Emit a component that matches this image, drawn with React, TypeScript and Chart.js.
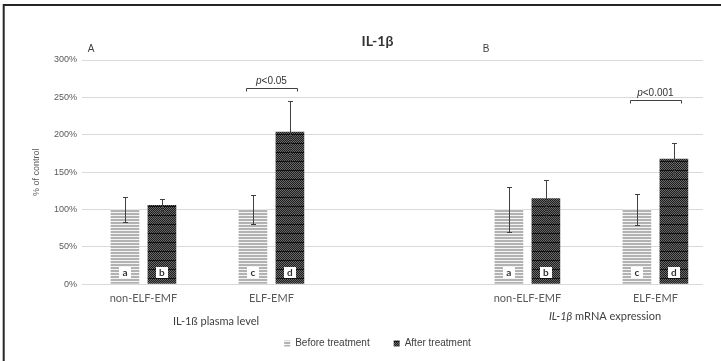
import React, { useEffect, useRef } from 'react';
import { Chart, registerables } from 'chart.js';

Chart.register(...registerables);

// ---- data ----
const categoryPositions = [0, 1, 3, 4];
const xTickLabels = ['non-ELF-EMF', 'ELF-EMF', 'non-ELF-EMF', 'ELF-EMF'];
const seriesNames = ['Before treatment', 'After treatment'];
const beforeValues = [100, 100, 100, 100];
const beforeErrors = [17, 19, 30, 21];
const afterValues = [106, 204, 115, 168];
const afterErrors = [8, 41, 24, 21];
const beforeLetters = ['a', 'c', 'a', 'c'];
const afterLetters = ['b', 'd', 'b', 'd'];
const yMin = 0;
const yMax = 300;
const yStep = 50;
const sigPositions = [1, 4];
const sigLabels = ['<0.05', '<0.001'];
const sigBracketValues = [263, 247];
const panelLetters = ['A', 'B'];
const chartTitle = 'IL-1β';
const yAxisTitle = '% of control';

function makeBeforePattern(): CanvasPattern | string {
  const c = document.createElement('canvas');
  c.width = 4;
  c.height = 3;
  const g = c.getContext('2d');
  if (!g) return '#c8c8c8';
  g.fillStyle = '#b2b2b2';
  g.fillRect(0, 0, 4, 2);
  g.fillStyle = '#f4f4f4';
  g.fillRect(0, 2, 4, 1);
  return g.createPattern(c, 'repeat') || '#c8c8c8';
}

function makeAfterPattern(): CanvasPattern | string {
  const c = document.createElement('canvas');
  c.width = 4;
  c.height = 9;
  const g = c.getContext('2d');
  if (!g) return '#3a3a3a';
  for (let y = 0; y < 8; y++) {
    for (let x = 0; x < 4; x++) {
      g.fillStyle = (x + y) % 2 === 0 ? '#1c1c1c' : '#6a6a6a';
      g.fillRect(x, y, 1, 1);
    }
  }
  g.fillStyle = '#111111';
  g.fillRect(0, 8, 4, 1);
  return g.createPattern(c, 'repeat') || '#3a3a3a';
}

const extrasPlugin = {
  id: 'extras',
  beforeDraw(chart: any) {
    const ctx = chart.ctx;
    ctx.save();
    ctx.fillStyle = '#ffffff';
    ctx.fillRect(0, 0, chart.width, chart.height);
    ctx.restore();
  },
  afterDatasetsDraw(chart: any) {
    const ctx = chart.ctx;
    const yScale = chart.scales.y;
    const xScale = chart.scales.x;
    const errs = [beforeErrors, afterErrors];
    const vals = [beforeValues, afterValues];
    const letters = [beforeLetters, afterLetters];
    ctx.save();
    // error bars
    chart.data.datasets.forEach((_ds: any, di: number) => {
      const meta = chart.getDatasetMeta(di);
      meta.data.forEach((el: any, i: number) => {
        const v = vals[di][i];
        const e = errs[di][i];
        const yT = Math.round(yScale.getPixelForValue(v + e)) + 0.5;
        const yB = Math.round(yScale.getPixelForValue(v - e)) + 0.5;
        const x = Math.round(el.x) + 0.5;
        ctx.strokeStyle = '#404040';
        ctx.lineWidth = 1;
        ctx.beginPath();
        ctx.moveTo(x, yT);
        ctx.lineTo(x, yB);
        ctx.moveTo(x - 2.5, yT);
        ctx.lineTo(x + 2.5, yT);
        ctx.moveTo(x - 2.5, yB);
        ctx.lineTo(x + 2.5, yB);
        ctx.stroke();
      });
    });
    // letter boxes
    chart.data.datasets.forEach((_ds: any, di: number) => {
      const meta = chart.getDatasetMeta(di);
      meta.data.forEach((el: any, i: number) => {
        const cy = yScale.getPixelForValue(16);
        const cx = el.x;
        ctx.fillStyle = '#ffffff';
        ctx.fillRect(Math.round(cx - 6), Math.round(cy - 5.5), 12, 11);
        ctx.fillStyle = '#333333';
        ctx.font = 'bold 10px Lato';
        ctx.textAlign = 'center';
        ctx.textBaseline = 'middle';
        ctx.fillText(letters[di][i], cx, cy);
      });
    });
    // significance brackets
    const half = (xScale.getPixelForValue(1) - xScale.getPixelForValue(0)) * 0.2;
    sigPositions.forEach((pos, k) => {
      const cx = xScale.getPixelForValue(pos);
      const by = Math.round(yScale.getPixelForValue(sigBracketValues[k])) + 0.5;
      ctx.strokeStyle = '#404040';
      ctx.lineWidth = 1;
      ctx.beginPath();
      ctx.moveTo(Math.round(cx - half) + 0.5, by + 3);
      ctx.lineTo(Math.round(cx - half) + 0.5, by);
      ctx.lineTo(Math.round(cx + half) + 0.5, by);
      ctx.lineTo(Math.round(cx + half) + 0.5, by + 3);
      ctx.stroke();
      const ty = by - 7.5;
      ctx.font = 'italic 10px "Liberation Sans"';
      const wp = ctx.measureText('p').width;
      ctx.font = '10px "Liberation Sans"';
      const wr = ctx.measureText(sigLabels[k]).width;
      const sx = cx - (wp + wr) / 2;
      ctx.fillStyle = '#333333';
      ctx.textAlign = 'left';
      ctx.textBaseline = 'middle';
      ctx.font = 'italic 10px "Liberation Sans"';
      ctx.fillText('p', sx, ty);
      ctx.font = '10px "Liberation Sans"';
      ctx.fillText(sigLabels[k], sx + wp, ty);
    });
    ctx.restore();
  },
  afterDraw(chart: any) {
    const ctx = chart.ctx;
    ctx.save();
    // panel letters
    ctx.fillStyle = '#404040';
    ctx.font = '10px "Liberation Sans"';
    ctx.textAlign = 'center';
    ctx.textBaseline = 'middle';
    ctx.fillText(panelLetters[0], 91, 49);
    ctx.fillText(panelLetters[1], 486, 49.5);
    // sub-captions
    ctx.font = '11px Lato';
    ctx.fillStyle = '#404040';
    ctx.fillText('IL-1ß plasma level', 216, 321);
    ctx.font = 'italic 11px Lato';
    const w1 = ctx.measureText('IL-1β').width;
    ctx.font = '11px Lato';
    const w2 = ctx.measureText(' mRNA expression').width;
    const sx = 605 - (w1 + w2) / 2;
    ctx.textAlign = 'left';
    ctx.font = 'italic 11px Lato';
    ctx.fillText('IL-1β', sx, 316);
    ctx.font = '11px Lato';
    ctx.fillText(' mRNA expression', sx + w1, 316);
    // frame (top + left)
    ctx.strokeStyle = '#262626';
    ctx.lineWidth = 2;
    ctx.beginPath();
    ctx.moveTo(3.7, chart.height);
    ctx.lineTo(3.7, 5);
    ctx.lineTo(chart.width, 5);
    ctx.stroke();
    ctx.restore();
  },
};

export default function App() {
  const ref = useRef<HTMLCanvasElement | null>(null);
  useEffect(() => {
    if (!ref.current) return;
    const beforePat = makeBeforePattern();
    const afterPat = makeAfterPattern();
    const chart = new Chart(ref.current, {
      type: 'bar',
      data: {
        datasets: [
          {
            label: seriesNames[0],
            data: categoryPositions.map((x, i) => ({ x, y: beforeValues[i] })),
            backgroundColor: beforePat as any,
            borderWidth: 0,
            categoryPercentage: 0.578,
            barPercentage: 0.775,
          },
          {
            label: seriesNames[1],
            data: categoryPositions.map((x, i) => ({ x, y: afterValues[i] })),
            backgroundColor: afterPat as any,
            borderWidth: 0,
            categoryPercentage: 0.578,
            barPercentage: 0.775,
          },
        ],
      },
      options: {
        animation: false,
        responsive: false,
        devicePixelRatio: 1,
        layout: { padding: { left: 34, right: 0, top: 0, bottom: 2.5 } },
        plugins: {
          title: {
            display: true,
            text: chartTitle,
            color: '#333333',
            font: { family: 'Lato', weight: 'bold', size: 14 },
            padding: { top: 32.6, bottom: 10.6 },
          },
          legend: {
            display: true,
            position: 'bottom',
            labels: {
              boxWidth: 6,
              boxHeight: 6,
              padding: 24,
              color: '#404040',
              font: { family: 'Liberation Sans', size: 10 },
            },
          },
          tooltip: { enabled: false },
        },
        scales: {
          x: {
            type: 'linear',
            min: -0.48,
            max: 4.372,
            offset: false,
            grid: { display: false, drawTicks: false },
            border: { display: false },
            afterBuildTicks: (s: any) => {
              s.ticks = categoryPositions.map((v) => ({ value: v }));
            },
            afterFit: (s: any) => {
              s.height = 30.2;
            },
            ticks: {
              autoSkip: false,
              maxRotation: 0,
              padding: 8,
              color: '#595959',
              font: { family: 'Lato', size: 11 },
              callback: (v: any) => {
                const idx = categoryPositions.indexOf(Number(v));
                return idx >= 0 ? xTickLabels[idx] : '';
              },
            },
          },
          y: {
            type: 'linear',
            position: 'left',
            min: yMin,
            max: yMax,
            grid: { color: '#d9d9d9', lineWidth: 1, drawTicks: false },
            border: { display: false },
            afterFit: (s: any) => {
              s.width = 48;
            },
            title: {
              display: true,
              text: yAxisTitle,
              color: '#595959',
              font: { family: 'Liberation Sans', size: 9 },
              padding: { top: -2.4, bottom: 0 },
            },
            ticks: {
              stepSize: yStep,
              padding: 5,
              color: '#595959',
              font: { family: 'Liberation Sans', size: 9 },
              callback: (v: any) => v + '%',
            },
          },
          y2: {
            type: 'linear',
            position: 'right',
            display: true,
            grid: { display: false, drawTicks: false },
            border: { display: false },
            ticks: { display: false },
            afterFit: (s: any) => {
              s.width = 18;
            },
          },
        },
      } as any,
      plugins: [extrasPlugin],
    });
    return () => chart.destroy();
  }, []);
  return (
    <div style={{ position: 'fixed', left: 0, top: 0, width: 721, height: 361, background: '#fff' }}>
      <canvas ref={ref} width={721} height={361} style={{ width: 721, height: 361, display: 'block' }} />
    </div>
  );
}
